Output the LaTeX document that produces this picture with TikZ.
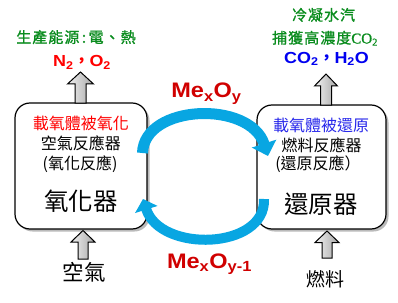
\documentclass[tikz,border=0pt]{standalone}
\usepackage{fontspec}
\setmainfont{Liberation Sans}
\newfontfamily\cjk{Noto Sans CJK TC}
\newfontfamily\cjkls[LetterSpace=7,FakeBold=1.2]{Noto Sans CJK TC}
\newfontfamily\lat[FakeStretch=1.12]{Liberation Sans}
\newfontfamily\serifl[FakeBold=1.2]{Liberation Serif}
\usetikzlibrary{arrows.meta,shadows}
\definecolor{arcblue}{RGB}{8,166,226}
\definecolor{mered}{RGB}{208,0,0}
\definecolor{nred}{RGB}{255,0,0}
\definecolor{grn}{RGB}{10,140,30}
\definecolor{cblue}{RGB}{0,0,240}
\definecolor{vblue}{RGB}{40,40,235}
\newcommand\fs[1]{\fontsize{#1}{#1}\selectfont}
\newcommand\sbx[1]{\textsubscript{#1}}
% #1 start (shaft bottom centre), #2 total length, #3 head length, #4 head half width, #5 shaft half width
\newcommand\blockarrow[5]{%
  \draw[garrow] (#1) ++(-#5,0) -- ++(0,{-(#2-#3)}) -- ++({-(#4-#5)},0) -- ++({#4},{-#3})
    -- ++({#4},{#3}) -- ++({-(#4-#5)},0) -- ++(0,{#2-#3}) -- cycle;}
\begin{document}
\begin{tikzpicture}[x=1pt,y=-1pt,
  reactor/.style={draw=black,line width=1.2pt,rounded corners=15pt,fill=white,
    drop shadow={shadow xshift=2.5pt,shadow yshift=-2.5pt,opacity=0.45,fill=black!60}},
  txt/.style={inner sep=0pt,anchor=base},
  garrow/.style={draw=black,line width=1pt,left color=gray!10,right color=gray!70},
  loop/.style={draw=arcblue,line cap=butt}
]
\useasboundingbox (0,0) rectangle (398,302);

% reactors
\node[reactor,minimum width=132pt,minimum height=126pt] (ox) at (81,166) {};
\node[reactor,minimum width=129pt,minimum height=124pt] (red) at (321.5,167) {};

% block arrows
\coordinate (oxtop) at (80.5,103);
\coordinate (redtop) at (326,105);
\coordinate (airin) at (83,259);
\coordinate (fuelin) at (327,258);
\blockarrow{oxtop}{31}{12}{13}{5.5}
\blockarrow{redtop}{31}{12}{11.5}{5.5}
\blockarrow{airin}{28.5}{11.5}{12}{5}
\blockarrow{fuelin}{27}{11.5}{12}{5}

% circulation arcs
\coordinate (l1) at (142.5,153);
\coordinate (r1) at (268,156);
\coordinate (r2) at (264,199);
\coordinate (l2) at (143,199);
\draw[loop,line width=11pt,-{Triangle[width=25pt,length=13pt]}] (l1) .. controls (144,104) and (250,100) .. (r1);
\draw[loop,line width=10pt,-{Triangle[width=23pt,length=11pt]}] (r2) .. controls (266,250) and (160,253) .. (l2);

% top texts
\node[txt,text=grn,font=\cjkls\fs{15}] (g1) at (76,42.8) {生產能源\,:\,電、熱};
\node[txt,text=nred,font=\lat\bfseries\fs{16}] (n2) at (82,66.5) {N\sbx{2}{\cjk ，}O\sbx{2}};
\node[txt,text=grn,font=\cjkls\fs{15}] (g2) at (323.5,20.6) {冷凝水汽};
\node[txt,text=grn,font=\cjkls\fs{15}] (g3) at (325,43.5) {捕獲高濃度{\serifl CO\sbx{2}}};
\node[txt,text=cblue,font=\lat\bfseries\fs{16}] (c2) at (326.5,63.3) {CO\sbx{2}{\cjk ，}H\sbx{2}O};

% left box texts
\node[txt,text=nred,font=\cjk\fs{16}] (o1) at (80.8,129.6) {載氧體被氧化};
\node[txt,font=\cjk\fs{16}] (o2) at (80.8,149.6) {空氣反應器};
\node[txt,font=\cjk\fs{16}] (o3) at (80,169.2) {(氧化反應)};
\node[txt,font=\cjk\fs{24.5}] (o4) at (80.8,210) {氧化器};

% right box texts
\node[txt,text=vblue,font=\cjk\fs{16}] (r1t) at (321,131.2) {載氧體被還原};
\node[txt,font=\cjk\fs{16}] (r2t) at (321.7,151) {燃料反應器};
\node[txt,font=\cjk\fs{16}] (r3t) at (318,169.6) {(還原反應）};
\node[txt,font=\cjk\fs{24.5}] (r4t) at (321,213) {還原器};

% inputs
\node[txt,font=\cjk\fs{21.5}] (air) at (84,280.5) {空氣};
\node[txt,font=\cjk\fs{19}] (fuel) at (325,286.3) {燃料};

% carrier labels
\node[txt,text=mered,font=\lat\bfseries\fs{21}] (m1) at (206.5,98) {Me\sbx{x}O\sbx{y}};
\node[txt,text=mered,font=\lat\bfseries\fs{21}] (m2) at (209.5,268) {Me\sbx{x}O\sbx{y-1}};
\end{tikzpicture}
\end{document}
